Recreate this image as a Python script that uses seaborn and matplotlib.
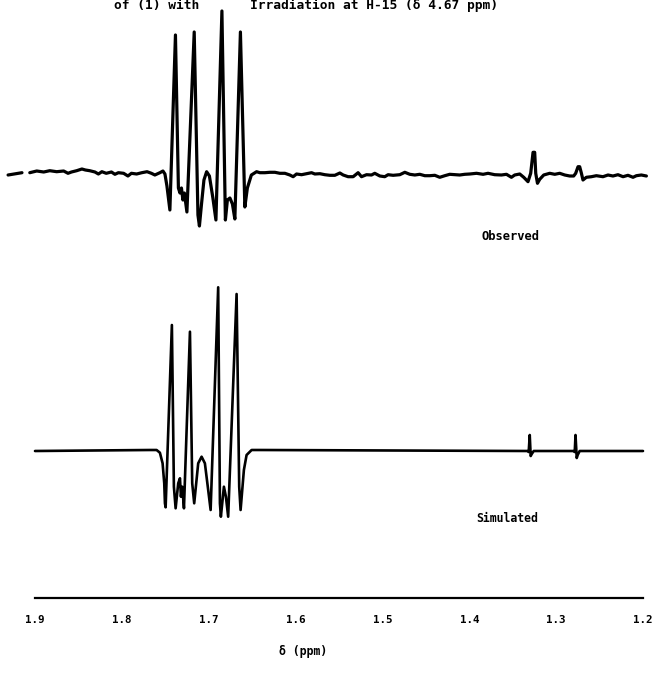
import matplotlib
matplotlib.use("Agg")
import matplotlib.pyplot as plt
import pandas as pd
import seaborn as sns

# ---------------- data (chemical shift in ppm, intensity in arbitrary units) ----------------
obs_dash_ppm = [1.931, 1.915]
obs_dash_int = [-2, 0.3]

obs_ppm = [1.906, 1.898, 1.890, 1.883, 1.875, 1.867, 1.862, 1.858, 1.852, 1.846,
           1.842, 1.837, 1.831, 1.827, 1.823, 1.818, 1.812, 1.808, 1.804, 1.798,
           1.793, 1.789, 1.783, 1.777, 1.771, 1.766, 1.762,
           1.7562, 1.7527, 1.7504, 1.7481, 1.7447, 1.7383, 1.7349, 1.7331, 1.7314, 1.7297,
           1.7280, 1.7251, 1.7167, 1.7124, 1.7107, 1.7084, 1.7055, 1.7024, 1.6992, 1.6952,
           1.6917, 1.6848, 1.6808, 1.6785, 1.6756, 1.6727, 1.6699, 1.6635, 1.6584, 1.6555,
           1.6509, 1.6449, 1.6411,
           1.6353, 1.6296, 1.6238, 1.6181, 1.6123, 1.6066, 1.6028, 1.5989, 1.5931, 1.5874,
           1.5816, 1.5778, 1.5720, 1.5663, 1.5605, 1.5548, 1.5490, 1.5452, 1.5395, 1.5337,
           1.5280, 1.5241, 1.5183, 1.5126, 1.5088, 1.5030, 1.4973, 1.4935, 1.4877, 1.4800,
           1.4742, 1.4685, 1.4627, 1.4570, 1.4512, 1.4455, 1.4397, 1.4340, 1.4282, 1.4225,
           1.4167, 1.4110, 1.4052, 1.3994, 1.3917, 1.3841, 1.3784, 1.3707, 1.3630, 1.3572,
           1.3515, 1.3477, 1.3419, 1.3373, 1.3324, 1.3293, 1.3266, 1.3247, 1.3235, 1.3215,
           1.3189, 1.3143, 1.3074, 1.3016, 1.2959, 1.2901, 1.2844, 1.2798, 1.2775, 1.2748,
           1.2729, 1.2709, 1.2691, 1.2652, 1.2594, 1.2537, 1.2461, 1.2403, 1.2346, 1.2288,
           1.2230, 1.2173, 1.2115, 1.2076, 1.2019, 1.1961]
obs_int = [0.3, 2, 1, 2.3, 1.3, 2, -0.3, 1, 2.3, 4,
           3, 2.3, 1, -1, 1.3, -0.3, 1, -1.3, 0.3, -0.3,
           -3, -0.3, -1, 0.3, 1.3, -0.3, -2,
           0.3, 2, -1, -13, -37, 138, -15, -20, -15, -27,
           -20, -39, 141, -42, -53, -32, -7, 1.3, -3, -25,
           -47, 162, -47, -27, -25, -31, -46, 141, -34, -15,
           -2, 1.3, 0.3,
           0.3, 0.7, 0.7, -0.3, -0.3, -2, -3.7, -1, -1.7, -0.7,
           0.3, -1, -0.7, -1.7, -2.3, -2.3, 0, -2, -3.7, -3.7,
           0.3, -3.7, -1.7, -2, -0.3, -3, -3.7, -1.7, -2.3, -1.7,
           0.7, -1.3, -2, -1.3, -2.7, -2.7, -2.3, -4.3, -2.7, -1.3,
           -1.7, -2, -1.3, -1, -0.3, -1.3, -0.3, -1.7, -2, -1.3,
           -4.3, -2, -1, -4.3, -8.7, -0.3, 20.7, 20.7, -0.3, -10.3,
           -6.3, -2, -0.3, -1.3, -0.3, -2, -3, -3, -0.3, 6.3,
           6.3, -0.3, -7, -4.3, -3.7, -2.7, -3.7, -2, -3, -1.7,
           -3.7, -2.3, -4.3, -2.7, -2, -3]

sim_ppm = [1.9, 1.7677, 1.7600, 1.7562, 1.7531, 1.7512, 1.7504, 1.7496, 1.7424, 1.7401,
           1.7381, 1.7351, 1.7331, 1.7320, 1.7305, 1.7285, 1.7216, 1.7190, 1.7167, 1.7121,
           1.7082, 1.7044, 1.7006, 1.6978, 1.6891, 1.6871, 1.6860, 1.6825, 1.6802, 1.6776,
           1.6679, 1.6649, 1.6633, 1.6595, 1.6564, 1.6506, 1.6411,
           1.3333, 1.3316, 1.3304, 1.3293, 1.3281, 1.3258,
           1.2804, 1.2786, 1.2777, 1.2763, 1.2752, 1.2729, 1.2]
sim_int = [0, 1, 1, -1.7, -12.3, -32.3, -52.3, -56.3, 126, -35.7,
           -57.3, -32.3, -27.3, -45.7, -35.7, -57.3, 119.3, -32.3, -52.3, -12.3,
           -5.7, -12.3, -39, -59, 163.7, -52.3, -65.7, -35.7, -45.7, -65.7,
           157, -35.7, -59, -19, -4, 1, 1,
           0, -1, 16, -5, -3, 0,
           0, -1, 16, -7, -4, 0, 0]

tick_ppm = [1.9, 1.8, 1.7, 1.6, 1.5, 1.4, 1.3, 1.2]
tick_labels = ["1.9", "1.8", "1.7", "1.6", "1.5", "1.4", "1.3", "1.2"]

title_left = "of (1) with"
title_right = "Irradiation at H-15 (\u03b4 4.67 ppm)"
label_obs = "Observed"
label_sim = "Simulated"
x_label = "\u03b4 (ppm)"

# ---------------- layout ----------------
W, H = 654, 686
OBS_OFFSET = 425
SIM_OFFSET = 147

sns.set_style("white")
plt.rcParams["font.family"] = ["DejaVu Sans Mono", "DejaVu Sans"]

fig = plt.figure(figsize=(W / 100, H / 100), dpi=100)
ax = fig.add_axes([35 / W, (H - 598) / H, (643 - 35) / W, 598 / H])

obs = pd.DataFrame({"ppm": obs_ppm, "y": [v + OBS_OFFSET for v in obs_int]})
dash = pd.DataFrame({"ppm": obs_dash_ppm, "y": [v + OBS_OFFSET for v in obs_dash_int]})
sim = pd.DataFrame({"ppm": sim_ppm, "y": [v + SIM_OFFSET for v in sim_int]})

for df, lw in [(obs, 2.3), (dash, 2.3), (sim, 1.9)]:
    sns.lineplot(data=df, x="ppm", y="y", ax=ax, color="black", linewidth=lw,
                 estimator=None, sort=False, clip_on=False)

ax.set_xlim(1.9, 1.2)
ax.set_ylim(0, 598)
ax.set_xticks(tick_ppm)
ax.set_xticklabels(tick_labels, fontsize=7.8, fontweight="bold")
ax.set_yticks([])
ax.set_xlabel("")
ax.set_ylabel("")
for s in ["top", "left", "right"]:
    ax.spines[s].set_visible(False)
ax.spines["bottom"].set_linewidth(1.6)
ax.spines["bottom"].set_color("black")
ax.tick_params(axis="x", direction="out", length=8, width=1.6, pad=4, colors="black")
ax.patch.set_alpha(0)

def ftext(px, py, s, **kw):
    fig.text(px / W, 1 - py / H, s, fontweight="bold", color="black", **kw)

ftext(114, 5, title_left, fontsize=9.3, ha="left", va="center")
ftext(250, 5, title_right, fontsize=9.3, ha="left", va="center")
ftext(481, 237, label_obs, fontsize=8.7, ha="left", va="center")
ftext(476, 518, label_sim, fontsize=8.3, ha="left", va="center")
ftext(303, 652, x_label, fontsize=8.3, ha="center", va="center")

fig.savefig("out.png", dpi=100, facecolor="white")
